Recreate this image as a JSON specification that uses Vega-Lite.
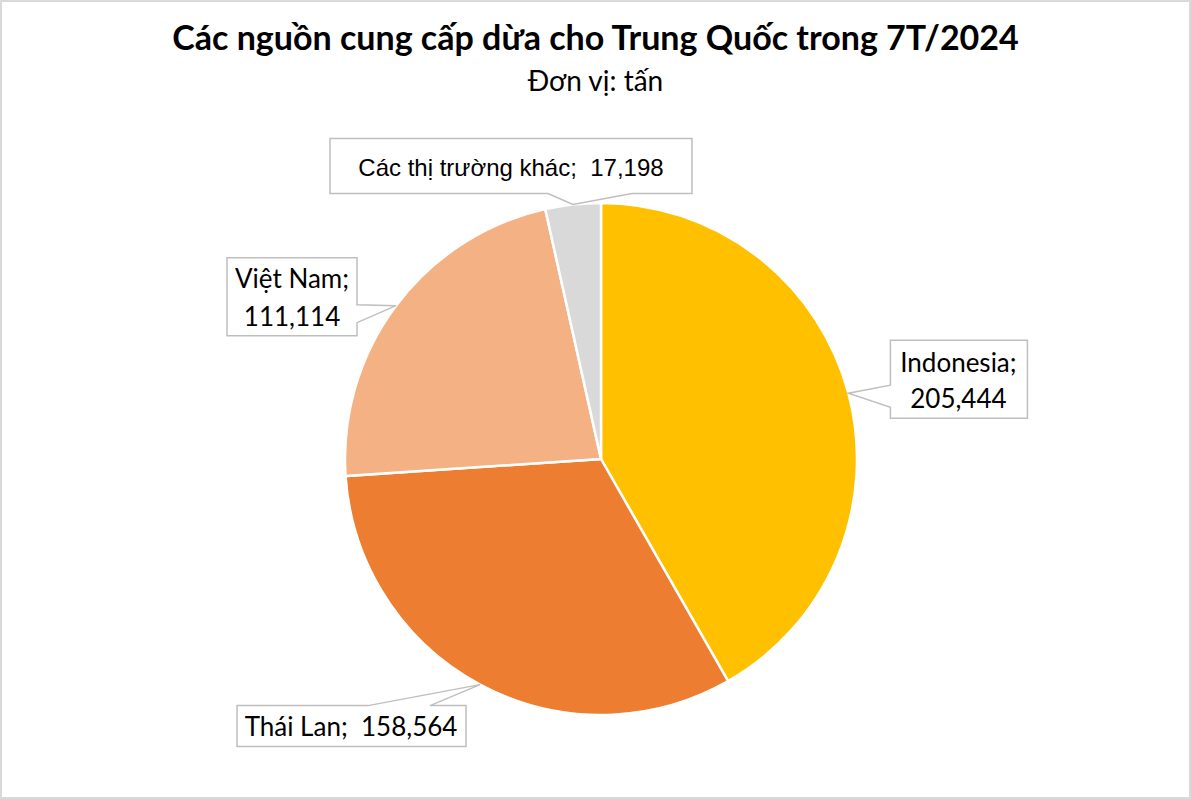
{
  "$schema": "https://vega.github.io/schema/vega-lite/v6.json",
  "width": 1191,
  "height": 799,
  "autosize": "none",
  "padding": 0,
  "background": "white",
  "config": {"view": {"stroke": "#D9D9D9", "strokeWidth": 4}},
  "title": {
    "text": "Các nguồn cung cấp dừa cho Trung Quốc trong 7T/2024",
    "subtitle": "Đơn vị: tấn",
    "anchor": "middle",
    "frame": "group",
    "offset": -97,
    "font": "Lato",
    "fontSize": 34,
    "fontWeight": "bold",
    "color": "black",
    "subtitleFont": "Lato",
    "subtitleFontSize": 28,
    "subtitleColor": "black",
    "subtitlePadding": 12
  },
  "data": {
    "values": [
      {"category": "Indonesia", "value": 205444},
      {"category": "Thái Lan", "value": 158564},
      {"category": "Việt Nam", "value": 111114},
      {"category": "Các thị trường khác", "value": 17198}
    ]
  },
  "transform": [
    {"window": [{"op": "row_number", "as": "k"}, {"op": "sum", "field": "value", "as": "cum"}], "frame": [null, 0]},
    {"joinaggregate": [{"op": "sum", "field": "value", "as": "total"}]},
    {"calculate": "2 * PI * (datum.cum - datum.value / 2) / datum.total", "as": "mid"},
    {"calculate": "256 * sin(datum.mid)", "as": "ax"},
    {"calculate": "256 * cos(datum.mid)", "as": "ay"}
  ],
  "layer": [
    {
      "mark": {"type": "arc", "outerRadius": 256, "stroke": "white", "strokeWidth": 2.5, "x": {"expr": "scale('x', 0)"}, "y": {"expr": "scale('y', 0)"}},
      "encoding": {
        "theta": {"field": "value", "type": "quantitative", "stack": true},
        "order": {"field": "k", "type": "quantitative"},
        "color": {
          "field": "category",
          "type": "nominal",
          "legend": null,
          "scale": {
            "domain": ["Indonesia", "Thái Lan", "Việt Nam", "Các thị trường khác"],
            "range": ["#FFC000", "#ED7D31", "#F4B183", "#D9D9D9"]
          }
        }
      }
    },
    {
      "transform": [
        {"filter": "datum.category === 'Indonesia'"},
        {"calculate": "[datum.category + ';', format(datum.value, ',')]", "as": "label"}
      ],
      "encoding": {
        "x": {"field": "ax", "type": "quantitative", "axis": null, "scale": {"domain": [-601, 590], "nice": false, "zero": false}},
        "y": {"field": "ay", "type": "quantitative", "axis": null, "scale": {"domain": [-340, 459], "nice": false, "zero": false}}
      },
      "layer": [
        {"mark": {"type": "point", "shape": "M42,-53H179V25H42V14L0,0L42,-8Z", "size": 4, "filled": true, "fill": "white", "stroke": "#BFBFBF", "strokeWidth": 1.5, "opacity": 1}},
        {"mark": {"type": "text", "dx": 110, "dy": -21.5, "align": "center", "baseline": "alphabetic", "font": "Lato", "fontSize": 26, "lineHeight": 36, "color": "black"}, "encoding": {"text": {"field": "label"}}}
      ]
    },
    {
      "transform": [
        {"filter": "datum.category === 'Thái Lan'"},
        {"calculate": "datum.category + ';\u00a0 ' + format(datum.value, ',')", "as": "label"}
      ],
      "encoding": {
        "x": {"field": "ax", "type": "quantitative", "axis": null, "scale": {"domain": [-601, 590], "nice": false, "zero": false}},
        "y": {"field": "ay", "type": "quantitative", "axis": null, "scale": {"domain": [-340, 459], "nice": false, "zero": false}}
      },
      "layer": [
        {"mark": {"type": "point", "shape": "M-243,21H-112L0,0L-50,21H-14V62H-243Z", "size": 4, "filled": true, "fill": "white", "stroke": "#BFBFBF", "strokeWidth": 1.5, "opacity": 1}},
        {"mark": {"type": "text", "dx": -129, "dy": 51, "align": "center", "baseline": "alphabetic", "font": "Lato", "fontSize": 26, "color": "black"}, "encoding": {"text": {"field": "label"}}}
      ]
    },
    {
      "transform": [
        {"filter": "datum.category === 'Việt Nam'"},
        {"calculate": "[datum.category + ';', format(datum.value, ',')]", "as": "label"}
      ],
      "encoding": {
        "x": {"field": "ax", "type": "quantitative", "axis": null, "scale": {"domain": [-601, 590], "nice": false, "zero": false}},
        "y": {"field": "ay", "type": "quantitative", "axis": null, "scale": {"domain": [-340, 459], "nice": false, "zero": false}}
      },
      "layer": [
        {"mark": {"type": "point", "shape": "M-169,-48H-39V-1L0,0L-39,17V30H-169Z", "size": 4, "filled": true, "fill": "white", "stroke": "#BFBFBF", "strokeWidth": 1.5, "opacity": 1}},
        {"mark": {"type": "text", "dx": -104, "dy": -18, "align": "center", "baseline": "alphabetic", "font": "Lato", "fontSize": 26, "lineHeight": 38, "color": "black"}, "encoding": {"text": {"field": "label"}}}
      ]
    },
    {
      "transform": [
        {"filter": "datum.category === 'Các thị trường khác'"},
        {"calculate": "datum.category + ';\u00a0 ' + format(datum.value, ',')", "as": "label"}
      ],
      "encoding": {
        "x": {"field": "ax", "type": "quantitative", "axis": null, "scale": {"domain": [-601, 590], "nice": false, "zero": false}},
        "y": {"field": "ay", "type": "quantitative", "axis": null, "scale": {"domain": [-340, 459], "nice": false, "zero": false}}
      },
      "layer": [
        {"mark": {"type": "point", "shape": "M-243,-66H119V-11H59L0,0L-25,-11H-243Z", "size": 4, "filled": true, "fill": "white", "stroke": "#BFBFBF", "strokeWidth": 1.5, "opacity": 1}},
        {"mark": {"type": "text", "dx": -62, "dy": -29, "align": "center", "baseline": "alphabetic", "font": "Liberation Sans", "fontSize": 24, "color": "black"}, "encoding": {"text": {"field": "label"}}}
      ]
    }
  ]
}
